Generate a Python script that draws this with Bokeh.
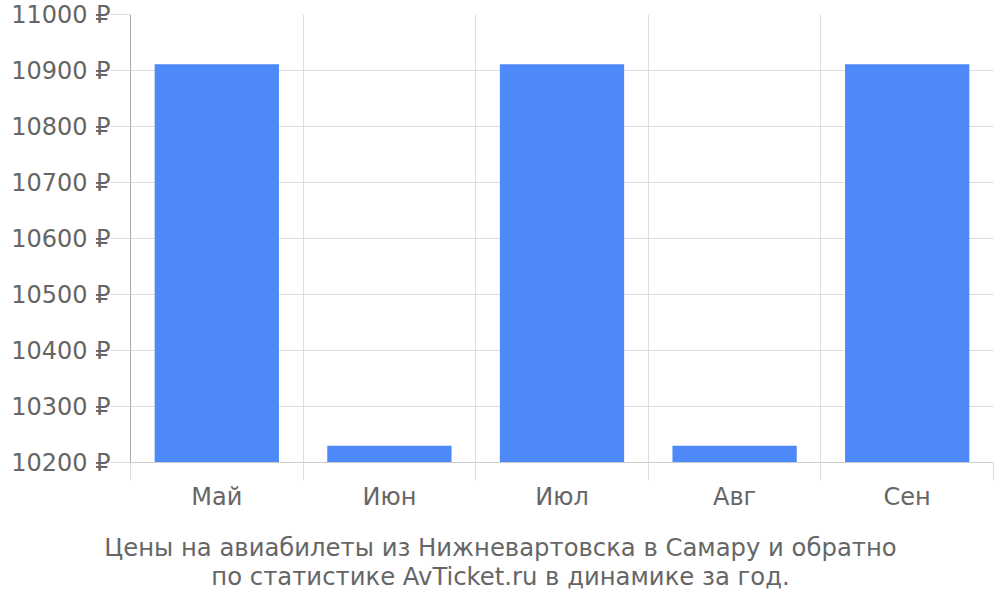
from bokeh.plotting import figure
from bokeh.models import (ColumnDataSource, FixedTicker, PrintfTickFormatter,
                          Range1d)
from bokeh.layouts import column
from bokeh.embed import file_html
from bokeh.resources import INLINE
from bokeh.core.properties import value

months = ["Май", "Июн", "Июл", "Авг", "Сен"]
prices = [10911, 10230, 10911, 10230, 10911]
y_ticks = [10200, 10300, 10400, 10500, 10600, 10700, 10800, 10900, 11000]
title_text = ("Цены на авиабилеты из Нижневартовска в Самару и обратно\n"
              "по статистике AvTicket.ru в динамике за год.")

FONT = "DejaVu Sans"
GRAY = "#666666"
W = 994
LEFT = 130
RIGHT = 1

x_pos = [i + 0.5 for i in range(len(months))]
src = ColumnDataSource(dict(x=x_pos, top=prices, m=months))

p = figure(width=W, height=522, output_backend="svg", toolbar_location=None,
           x_range=Range1d(0, len(months)), y_range=Range1d(y_ticks[0], y_ticks[-1]),
           min_border_left=LEFT, min_border_right=RIGHT, min_border_top=14,
           min_border_bottom=60)
p.outline_line_color = None
p.background_fill_color = "white"
p.border_fill_color = "white"

p.vbar(x="x", top="top", bottom=y_ticks[0], width=0.72, source=src,
       fill_color="#4d89f9", line_color=None)

# x axis
p.xaxis.ticker = FixedTicker(ticks=x_pos, minor_ticks=list(range(len(months) + 1)))
p.xaxis.major_label_overrides = {x: m for x, m in zip(x_pos, months)}
p.xaxis.major_tick_line_color = None
p.xaxis.major_tick_out = 18
p.xaxis.major_tick_in = 0
p.xaxis.minor_tick_line_color = "#dddddd"
p.xaxis.minor_tick_out = 18
p.xaxis.minor_tick_in = 0
p.xaxis.axis_line_color = "#cccccc"
p.xaxis.major_label_text_font = FONT
p.xaxis.major_label_text_font_size = "24px"
p.xaxis.major_label_text_color = GRAY
p.xaxis.major_label_standoff = 2

# y axis
p.yaxis.ticker = FixedTicker(ticks=y_ticks)
p.yaxis.formatter = PrintfTickFormatter(format="%d ₽")
p.yaxis.major_tick_line_color = "#dddddd"
p.yaxis.major_tick_out = 20
p.yaxis.major_tick_in = 0
p.yaxis.minor_tick_line_color = None
p.yaxis.axis_line_color = "#aaaaaa"
p.yaxis.major_label_text_font = FONT
p.yaxis.major_label_text_font_size = "24px"
p.yaxis.major_label_text_color = GRAY
p.yaxis.major_label_standoff = 0

# grids
p.xgrid.ticker = FixedTicker(ticks=list(range(len(months) + 1)))
p.xgrid.grid_line_color = "#dddddd"
p.ygrid.ticker = FixedTicker(ticks=y_ticks)
p.ygrid.grid_line_color = "#dddddd"

# caption figure below the chart, its frame spanning the full width
CH = 78
c = figure(width=W, height=CH, output_backend="svg", toolbar_location=None,
           x_range=Range1d(0, W), y_range=Range1d(0, CH), min_border=0)
c.frame_align = False
c.axis.visible = False
c.grid.visible = False
c.outline_line_color = None
c.text(x=[500], y=[CH - 10], text=[title_text], text_align="center",
       text_baseline="top", text_font=value(FONT), text_font_size="24.3px",
       text_color=GRAY, text_line_height=1.02)

layout = column(p, c, spacing=0)
open("out.html", "w").write(file_html(layout, INLINE))
